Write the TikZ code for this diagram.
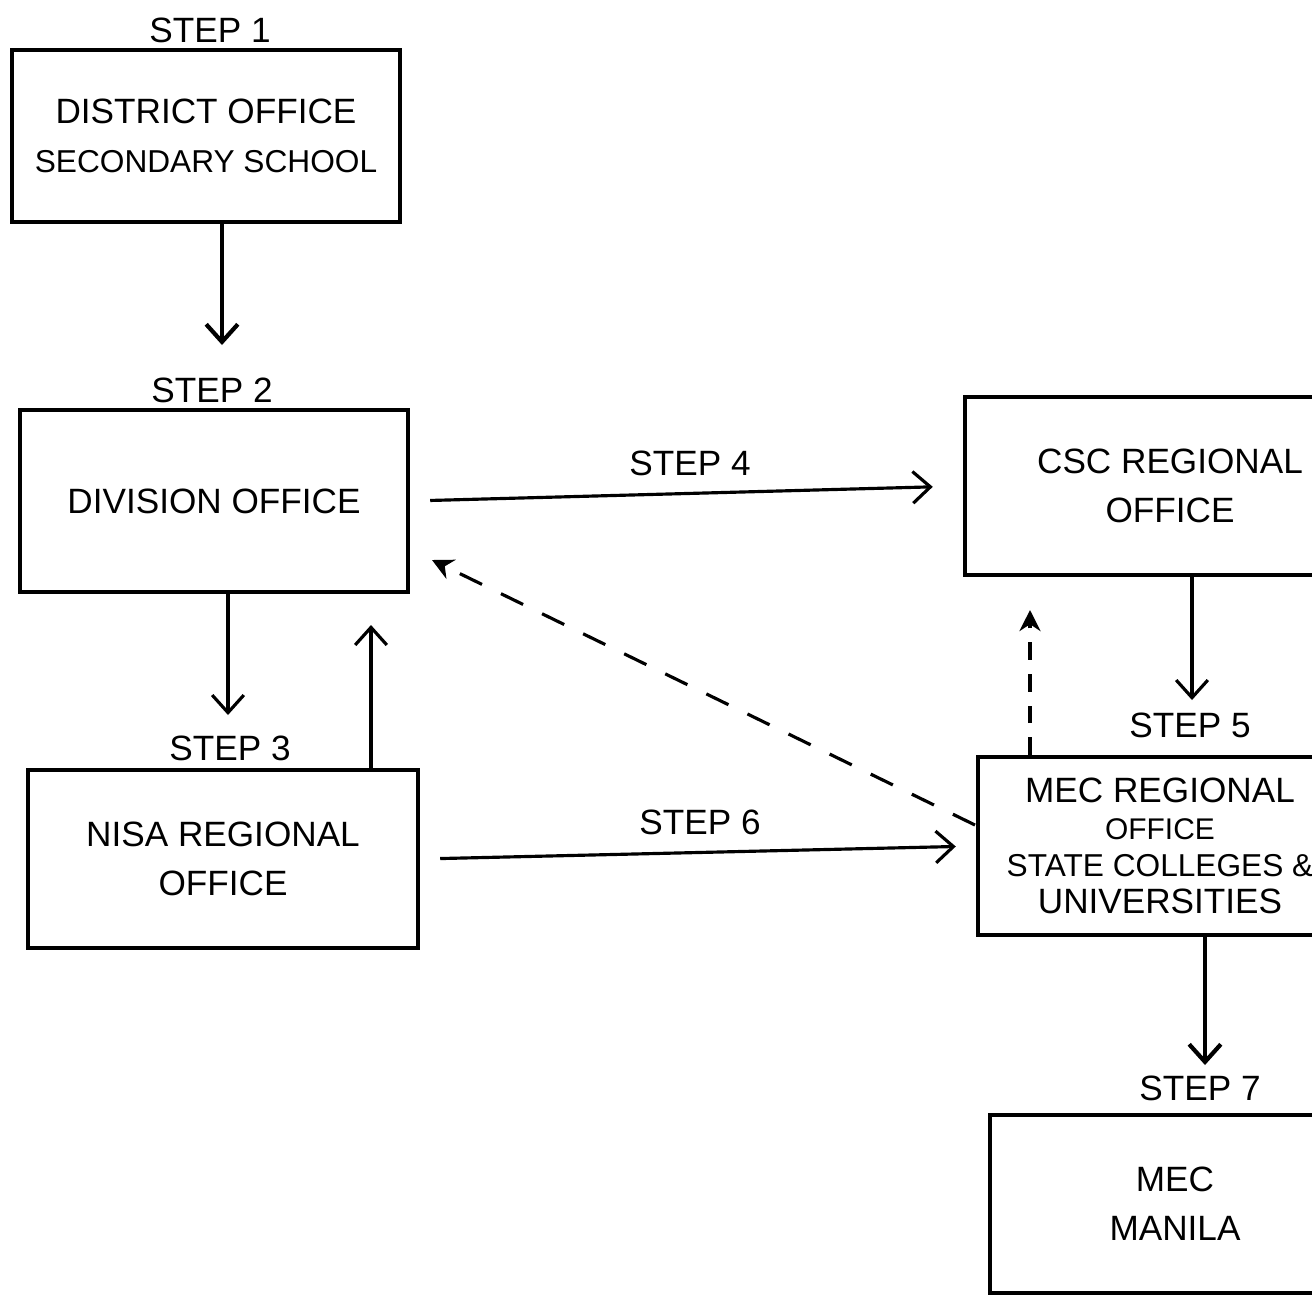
\documentclass[tikz,border=0pt]{standalone}
\usepackage{fontspec}
\setmainfont{Liberation Sans}
\usetikzlibrary{arrows.meta}
\begin{document}
\begin{tikzpicture}[x=0.01cm,y=-0.01cm,>={Straight Barb[length=5pt,width=9pt]},
  every node/.style={font=\fontsize{10}{14}\selectfont,align=center},
  office/.style={draw,line width=1.2pt,minimum width=3.9cm,minimum height=1.78cm},
  flow/.style={->,line width=0.9pt},
  back/.style={-{Stealth[length=6pt,width=6pt]},line width=0.9pt,dash pattern=on 7pt off 6pt}]
 \useasboundingbox (0,0) rectangle (1312,1296);
 \clip (0,0) rectangle (1312,1296);
 % offices
 \node[office,minimum width=3.88cm,minimum height=1.72cm] (dist) at (206,136) {DISTRICT OFFICE\\{\fontsize{9}{14}\selectfont SECONDARY SCHOOL}};
 \node[office,minimum width=3.88cm,minimum height=1.82cm] (div) at (214,501) {DIVISION OFFICE};
 \node[office] (nisa) at (223,859) {NISA REGIONAL\\OFFICE};
 \node[office,minimum width=4.1cm] (csc) at (1170,486) {CSC REGIONAL\\OFFICE};
 \node[office,minimum width=3.64cm,font=\fontsize{10}{10.5}\selectfont] (mec) at (1160,846) {MEC REGIONAL\\{\fontsize{8.5}{10.5}\selectfont OFFICE}\\{\fontsize{9}{10.5}\selectfont STATE COLLEGES \&}\\UNIVERSITIES};
 \node[office,minimum width=3.7cm] (manila) at (1175,1204) {MEC\\MANILA};
 % steps
 \node (s1) at (210,30) {STEP 1};
 \node (s2) at (212,390) {STEP 2};
 \node (s3) at (230,748) {STEP 3};
 \node (s4) at (690,463) {STEP 4};
 \node (s5) at (1190,725) {STEP 5};
 \node (s6) at (700,822) {STEP 6};
 \node (s7) at (1200,1088) {STEP 7};
 % arrow ends
 \coordinate (t2) at (222,345);
 \coordinate (t3) at (228,715);
 \coordinate (up2) at (371,625);
 \coordinate (t5) at (1192,700);
 \coordinate (up4) at (1030,610);
 \coordinate (back2) at (432,560);
 \coordinate (t7) at (1205,1065);
 \coordinate (mecw) at (975,825);

 \draw[flow,line width=1.2pt] (dist.south -| t2) -- (t2);
 \draw[flow,shorten <=20pt*0.2845,shorten >=30pt*0.2845] (div.east) -- (csc.west);
 \draw[flow] (div.south -| t3) -- (t3);
 \draw[flow] (nisa.north -| up2) -- (up2);
 \draw[flow] (csc.south -| t5) -- (t5);
 \draw[flow,shorten <=20pt*0.2845,shorten >=20pt*0.2845] (nisa.east) -- (mec.west);
 \draw[flow,line width=1.2pt] (mec.south -| t7) -- (t7);
 \draw[back,dash pattern=on 5pt off 4pt] (mec.north -| up4) -- (up4);
 \draw[back] (mecw) -- (back2);
\end{tikzpicture}
\end{document}
